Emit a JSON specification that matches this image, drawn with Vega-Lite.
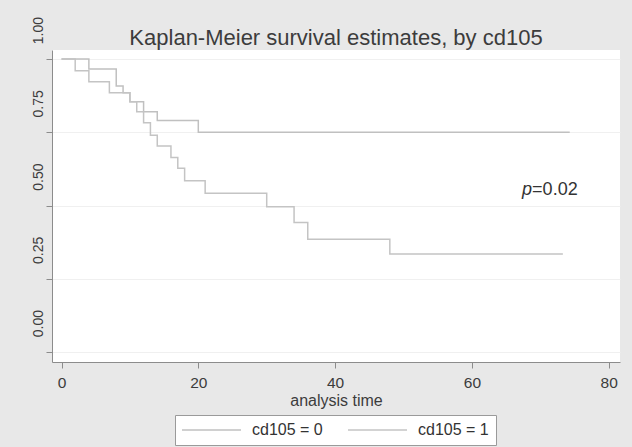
{
  "$schema": "https://vega.github.io/schema/vega-lite/v6.json",
  "width": 568,
  "height": 312,
  "autosize": {"type": "none"},
  "padding": {"left": 52, "top": 50, "right": 12, "bottom": 85},
  "background": "#e8e8e8",
  "config": {
    "view": {"fill": "white", "stroke": null},
    "font": "Liberation Sans",
    "axis": {
      "domainColor": "#8c8c8c",
      "tickColor": "#8c8c8c",
      "tickSize": 6,
      "labelColor": "#3c3c3c",
      "titleColor": "#3c3c3c",
      "titleFontWeight": "normal"
    }
  },
  "title": {
    "text": "Kaplan-Meier survival estimates, by cd105",
    "fontSize": 22,
    "fontWeight": "normal",
    "color": "#3c3c3c",
    "anchor": "middle",
    "frame": "group",
    "baseline": "alphabetic",
    "offset": -51
  },
  "layer": [
    {
      "data": {
        "values": [
          {"group": "cd105 = 0", "t": 0, "s": 1},
          {"group": "cd105 = 0", "t": 4, "s": 0.966},
          {"group": "cd105 = 0", "t": 8, "s": 0.908},
          {"group": "cd105 = 0", "t": 9, "s": 0.885},
          {"group": "cd105 = 0", "t": 10, "s": 0.854},
          {"group": "cd105 = 0", "t": 12, "s": 0.82},
          {"group": "cd105 = 0", "t": 14, "s": 0.79},
          {"group": "cd105 = 0", "t": 20, "s": 0.75},
          {"group": "cd105 = 0", "t": 74.3, "s": 0.75},
          {"group": "cd105 = 1", "t": 0, "s": 1},
          {"group": "cd105 = 1", "t": 2, "s": 0.96},
          {"group": "cd105 = 1", "t": 4, "s": 0.923},
          {"group": "cd105 = 1", "t": 7, "s": 0.885},
          {"group": "cd105 = 1", "t": 10, "s": 0.854},
          {"group": "cd105 = 1", "t": 11, "s": 0.82},
          {"group": "cd105 = 1", "t": 12, "s": 0.783},
          {"group": "cd105 = 1", "t": 13, "s": 0.74},
          {"group": "cd105 = 1", "t": 14, "s": 0.703},
          {"group": "cd105 = 1", "t": 16, "s": 0.664},
          {"group": "cd105 = 1", "t": 17, "s": 0.627},
          {"group": "cd105 = 1", "t": 18, "s": 0.585},
          {"group": "cd105 = 1", "t": 21, "s": 0.542},
          {"group": "cd105 = 1", "t": 30, "s": 0.496},
          {"group": "cd105 = 1", "t": 34, "s": 0.442},
          {"group": "cd105 = 1", "t": 36, "s": 0.385},
          {"group": "cd105 = 1", "t": 48, "s": 0.335},
          {"group": "cd105 = 1", "t": 73.3, "s": 0.335}
        ]
      },
      "mark": {"type": "line", "interpolate": "step-after", "strokeWidth": 1.5},
      "encoding": {
        "x": {
          "field": "t",
          "type": "quantitative",
          "scale": {"domain": [-1.39, 81.65], "nice": false, "zero": false},
          "axis": {
            "title": "analysis time",
            "values": [0, 20, 40, 60, 80],
            "grid": false,
            "labelFontSize": 15.5,
            "labelPadding": 7,
            "labelFlush": false,
            "titleFontSize": 16,
            "titlePadding": 2
          }
        },
        "y": {
          "field": "s",
          "type": "quantitative",
          "scale": {"domain": [-0.034, 1.031], "nice": false, "zero": false},
          "axis": {
            "title": null,
            "values": [0, 0.25, 0.5, 0.75, 1],
            "format": ".2f",
            "labelAngle": -90,
            "labelAlign": "center",
            "labelBaseline": "alphabetic",
            "labelOffset": -29,
            "labelPadding": 4,
            "labelFontSize": 14,
            "labelOverlap": false,
            "grid": true,
            "gridColor": "#f0f0f0",
            "gridWidth": 1
          }
        },
        "color": {
          "field": "group",
          "type": "nominal",
          "scale": {"domain": ["cd105 = 0", "cd105 = 1"], "range": ["#c0c0c0", "#c4c4c4"]},
          "legend": {
            "orient": "none",
            "legendX": 123,
            "legendY": 365,
            "direction": "horizontal",
            "title": null,
            "symbolType": "M0,0H11.8",
            "symbolSize": 100,
            "symbolStrokeWidth": 1.5,
            "symbolOffset": -8,
            "labelOffset": 62,
            "columnPadding": 22,
            "labelFontSize": 16,
            "labelColor": "#333333",
            "labelLimit": 200,
            "padding": 7,
            "fillColor": "white",
            "strokeColor": "#9a9a9a"
          }
        }
      }
    },
    {
      "data": {"values": [{"t": 68.8, "s": 0.536, "label": "p"}]},
      "mark": {"type": "text", "fontStyle": "italic", "align": "right", "baseline": "alphabetic", "fontSize": 18, "color": "#333333"},
      "encoding": {
        "x": {"field": "t", "type": "quantitative"},
        "y": {"field": "s", "type": "quantitative"},
        "text": {"field": "label"}
      }
    },
    {
      "data": {"values": [{"t": 68.8, "s": 0.536, "label": "=0.02"}]},
      "mark": {"type": "text", "align": "left", "baseline": "alphabetic", "fontSize": 18, "color": "#333333"},
      "encoding": {
        "x": {"field": "t", "type": "quantitative"},
        "y": {"field": "s", "type": "quantitative"},
        "text": {"field": "label"}
      }
    }
  ]
}
